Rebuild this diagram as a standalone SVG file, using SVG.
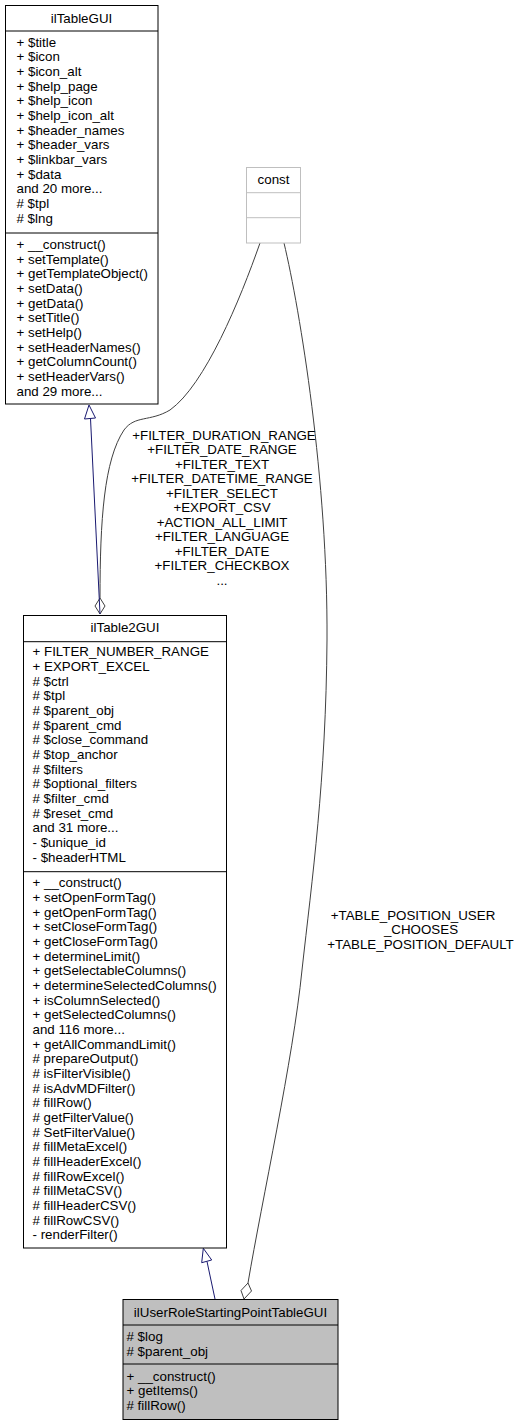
<svg xmlns="http://www.w3.org/2000/svg" width="521" height="1425" viewBox="0 0 521 1425">
<style>
text{font-family:"Liberation Sans",Arial,Helvetica,sans-serif;font-size:13.33px;fill:#000}
.c{text-anchor:middle}
.box{fill:#fff;stroke:#000;stroke-width:1}
.gbox{fill:#bfbfbf;stroke:#000;stroke-width:1}
.cbox{fill:#fff;stroke:#bfbfbf;stroke-width:1}
.inh{fill:none;stroke:#191970;stroke-width:1}
.inhh{fill:#fff;stroke:#191970;stroke-width:1}
.agg{fill:none;stroke:#404040;stroke-width:1}
.aggh{fill:#fff;stroke:#404040;stroke-width:1}
</style>
<rect width="521" height="1425" fill="#fff"/>
<g id="connectors">
<path class="agg" d="M260,243 C240,300 205,385 170,410 C150,422 135,415 124,430 C104,460 100,520 100,598"/>
<polygon class="aggh" points="100,614 95,606 100,598 105,606"/>
<path class="inh" d="M100,614 L90.5,418.5"/>
<polygon class="inhh" points="89,405 84.5,419 95.5,418"/>
<path class="agg" d="M284,243 C300,310 328,480 327,640 C326,780 312,880 302,970 C293,1060 262,1200 248,1283"/>
<polygon class="aggh" points="244,1299 241,1290.5 248,1283 251.5,1291"/>
<path class="inh" d="M215,1299 L207,1261.5"/>
<polygon class="inhh" points="203.3,1248.3 201.7,1262.7 211.7,1260"/>
<g id="label-const-table2">
<text class="c" x="224" y="439.5">+FILTER_DURATION_RANGE</text>
<text class="c" x="222" y="454">+FILTER_DATE_RANGE</text>
<text class="c" x="222" y="468.6">+FILTER_TEXT</text>
<text class="c" x="222" y="483.1">+FILTER_DATETIME_RANGE</text>
<text class="c" x="222" y="497.7">+FILTER_SELECT</text>
<text class="c" x="222" y="512.2">+EXPORT_CSV</text>
<text class="c" x="222" y="526.8">+ACTION_ALL_LIMIT</text>
<text class="c" x="222" y="541.3">+FILTER_LANGUAGE</text>
<text class="c" x="222" y="555.9">+FILTER_DATE</text>
<text class="c" x="222" y="570.4">+FILTER_CHECKBOX</text>
<text class="c" x="222" y="585">...</text>
</g>
<g id="label-const-user">
<text class="c" x="413" y="919.5">+TABLE_POSITION_USER</text>
<text class="c" x="421" y="934">_CHOOSES</text>
<text class="c" x="420.5" y="948.7">+TABLE_POSITION_DEFAULT</text>
</g>
</g>
<g id="ilTableGUI">
<rect class="box" x="5.5" y="5.5" width="152.5" height="398.5"/>
<line stroke="#000" x1="5.5" y1="31" x2="158" y2="31"/>
<line stroke="#000" x1="5.5" y1="233" x2="158" y2="233"/>
<text class="c" x="81.5" y="22.5">ilTableGUI</text>
<text x="16.5" y="46.6">+ $title</text>
<text x="16.5" y="61.3">+ $icon</text>
<text x="16.5" y="75.9">+ $icon_alt</text>
<text x="16.5" y="90.6">+ $help_page</text>
<text x="16.5" y="105.3">+ $help_icon</text>
<text x="16.5" y="119.9">+ $help_icon_alt</text>
<text x="16.5" y="134.6">+ $header_names</text>
<text x="16.5" y="149.3">+ $header_vars</text>
<text x="16.5" y="163.9">+ $linkbar_vars</text>
<text x="16.5" y="178.6">+ $data</text>
<text x="16.5" y="193.3">and 20 more...</text>
<text x="16.5" y="207.9">#  $tpl</text>
<text x="16.5" y="222.6">#  $lng</text>
<text x="16.5" y="249">+ __construct()</text>
<text x="16.5" y="263.7">+ setTemplate()</text>
<text x="16.5" y="278.3">+ getTemplateObject()</text>
<text x="16.5" y="293">+ setData()</text>
<text x="16.5" y="307.7">+ getData()</text>
<text x="16.5" y="322.3">+ setTitle()</text>
<text x="16.5" y="337">+ setHelp()</text>
<text x="16.5" y="351.7">+ setHeaderNames()</text>
<text x="16.5" y="366.3">+ getColumnCount()</text>
<text x="16.5" y="381">+ setHeaderVars()</text>
<text x="16.5" y="395.7">and 29 more...</text>
</g>
<g id="const">
<rect class="cbox" x="246.5" y="167.5" width="54" height="75.5"/>
<line stroke="#bfbfbf" x1="246.5" y1="192.7" x2="300.5" y2="192.7"/>
<line stroke="#bfbfbf" x1="246.5" y1="217.7" x2="300.5" y2="217.7"/>
<text class="c" x="273.5" y="183.5">const</text>
</g>
<g id="ilTable2GUI">
<rect class="box" x="23.5" y="615.5" width="203" height="632.5"/>
<line stroke="#000" x1="23.5" y1="641.7" x2="226.5" y2="641.7"/>
<line stroke="#000" x1="23.5" y1="871.7" x2="226.5" y2="871.7"/>
<text class="c" x="125" y="632">ilTable2GUI</text>
<text x="32.5" y="656.3">+ FILTER_NUMBER_RANGE</text>
<text x="32.5" y="671">+ EXPORT_EXCEL</text>
<text x="32.5" y="685.6">#  $ctrl</text>
<text x="32.5" y="700.3">#  $tpl</text>
<text x="32.5" y="715">#  $parent_obj</text>
<text x="32.5" y="729.6">#  $parent_cmd</text>
<text x="32.5" y="744.3">#  $close_command</text>
<text x="32.5" y="759">#  $top_anchor</text>
<text x="32.5" y="773.7">#  $filters</text>
<text x="32.5" y="788.3">#  $optional_filters</text>
<text x="32.5" y="803">#  $filter_cmd</text>
<text x="32.5" y="817.7">#  $reset_cmd</text>
<text x="32.5" y="832.3">and 31 more...</text>
<text x="32.5" y="847">- $unique_id</text>
<text x="32.5" y="861.7">- $headerHTML</text>
<text x="32.5" y="887.3">+ __construct()</text>
<text x="32.5" y="902">+ setOpenFormTag()</text>
<text x="32.5" y="916.6">+ getOpenFormTag()</text>
<text x="32.5" y="931.3">+ setCloseFormTag()</text>
<text x="32.5" y="946">+ getCloseFormTag()</text>
<text x="32.5" y="960.6">+ determineLimit()</text>
<text x="32.5" y="975.3">+ getSelectableColumns()</text>
<text x="32.5" y="990">+ determineSelectedColumns()</text>
<text x="32.5" y="1004.7">+ isColumnSelected()</text>
<text x="32.5" y="1019.3">+ getSelectedColumns()</text>
<text x="32.5" y="1034">and 116 more...</text>
<text x="32.5" y="1048.7">+ getAllCommandLimit()</text>
<text x="32.5" y="1063.3">#  prepareOutput()</text>
<text x="32.5" y="1078">#  isFilterVisible()</text>
<text x="32.5" y="1092.7">#  isAdvMDFilter()</text>
<text x="32.5" y="1107.3">#  fillRow()</text>
<text x="32.5" y="1122">#  getFilterValue()</text>
<text x="32.5" y="1136.7">#  SetFilterValue()</text>
<text x="32.5" y="1151.3">#  fillMetaExcel()</text>
<text x="32.5" y="1166">#  fillHeaderExcel()</text>
<text x="32.5" y="1180.7">#  fillRowExcel()</text>
<text x="32.5" y="1195.3">#  fillMetaCSV()</text>
<text x="32.5" y="1210">#  fillHeaderCSV()</text>
<text x="32.5" y="1224.7">#  fillRowCSV()</text>
<text x="32.5" y="1239.3">- renderFilter()</text>
</g>
<g id="ilUserRoleStartingPointTableGUI">
<rect class="gbox" x="123" y="1299.5" width="215" height="120"/>
<line stroke="#000" x1="123" y1="1325" x2="338" y2="1325"/>
<line stroke="#000" x1="123" y1="1364" x2="338" y2="1364"/>
<text class="c" x="230.5" y="1316.5">ilUserRoleStartingPointTableGUI</text>
<text x="126.5" y="1341">#  $log</text>
<text x="126.5" y="1355.7">#  $parent_obj</text>
<text x="126.5" y="1380.7">+ __construct()</text>
<text x="126.5" y="1395.3">+ getItems()</text>
<text x="126.5" y="1410">#  fillRow()</text>
</g>
</svg>
